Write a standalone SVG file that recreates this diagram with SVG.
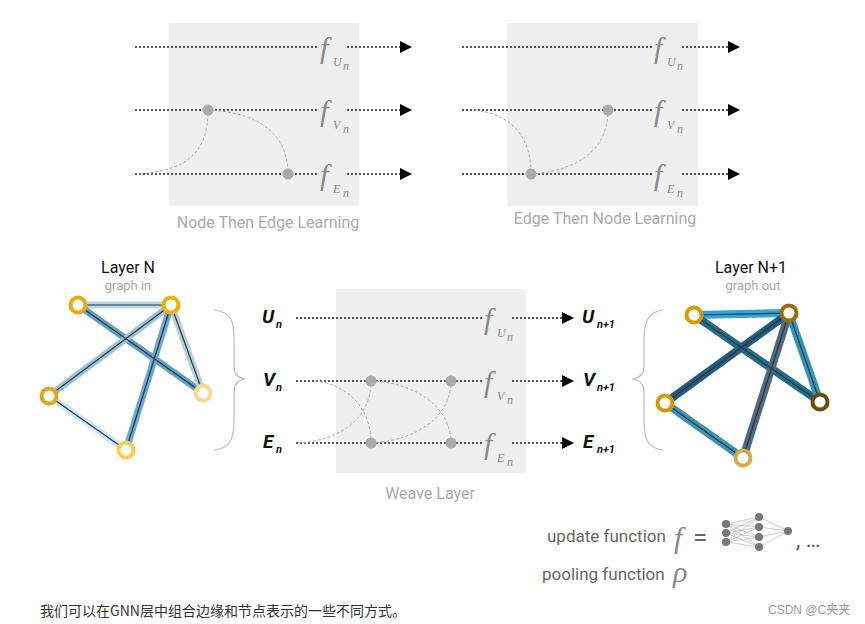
<svg xmlns="http://www.w3.org/2000/svg" width="865" height="624" viewBox="0 0 865 624">
<style>
.panel{fill:#efefef}
.flow{stroke:#222;stroke-width:1.6;stroke-dasharray:2 2;fill:none}
.cur{stroke:#aaa;stroke-width:1;stroke-dasharray:3 2;fill:none}
.dot{fill:#aaa}
.f{font-family:"Liberation Serif",serif;font-style:italic;fill:#888;font-size:30px}
.fs{font-family:"Liberation Serif",serif;font-style:italic;fill:#888;font-size:12px}
.cap{font-family:Roboto,"Liberation Sans",sans-serif;fill:#aaa;font-size:16px}
.lbl{font-family:Roboto,"Liberation Sans",sans-serif;font-style:italic;font-weight:bold;fill:#111;font-size:19px}
.lsub{font-family:Roboto,"Liberation Sans",sans-serif;font-style:italic;font-weight:bold;fill:#111;font-size:11px}
.title{font-family:Roboto,"Liberation Sans",sans-serif;fill:#111;font-size:16px}
.sub{font-family:Roboto,"Liberation Sans",sans-serif;fill:#aaa;font-size:13px}
.txt{font-family:Roboto,"Liberation Sans",sans-serif;fill:#666;font-size:17px}
.brace{stroke:#bbb;stroke-width:1.2;fill:none}
.node{fill:#fff;stroke-width:4}
.core{stroke:#333;stroke-width:1.2}
</style>
<defs>
<marker id="ar" viewBox="0 0 10 10" refX="0" refY="5" markerWidth="12" markerHeight="14" markerUnits="userSpaceOnUse" orient="auto"><path d="M0,0L10,5L0,10z" fill="#000"/></marker>
</defs>

<g id="panel-node-edge">
<rect class="panel" x="169" y="23" width="190" height="183"/>
<text class="cap" x="268" y="228" text-anchor="middle">Node Then Edge Learning</text>
</g>
<g id="panel-edge-node">
<rect class="panel" x="507" y="23" width="191" height="183"/>
<text class="cap" x="605" y="224" text-anchor="middle">Edge Then Node Learning</text>
</g>
<g id="panel-weave">
<rect class="panel" x="336" y="289" width="190" height="184"/>
<text class="cap" x="430" y="499" text-anchor="middle">Weave Layer</text>
</g>

<g id="connectors">
<path class="flow" d="M135,47H400" marker-end="url(#ar)"/>
<path class="flow" d="M135,110H400" marker-end="url(#ar)"/>
<path class="flow" d="M135,174H400" marker-end="url(#ar)"/>
<path class="cur" d="M140,174C190,170 208,150 208,110"/>
<path class="cur" d="M208,110C260,112 288,135 288,174"/>
<path class="flow" d="M462,47H728" marker-end="url(#ar)"/>
<path class="flow" d="M462,110H728" marker-end="url(#ar)"/>
<path class="flow" d="M462,174H728" marker-end="url(#ar)"/>
<path class="cur" d="M475,110C515,115 531,140 531,174"/>
<path class="cur" d="M531,174C585,170 608,145 608,110"/>
<path class="flow" d="M296,318H562" marker-end="url(#ar)"/>
<path class="flow" d="M296,381H562" marker-end="url(#ar)"/>
<path class="flow" d="M296,443H562" marker-end="url(#ar)"/>
<path class="cur" d="M315,381C350,385 371,410 371,443"/>
<path class="cur" d="M298,443C345,440 371,415 371,381"/>
<path class="cur" d="M371,443C420,440 451,415 451,381"/>
<path class="cur" d="M371,381C420,383 451,410 451,443"/>
</g>

<g id="dots">
<circle class="dot" cx="208" cy="110" r="5.5"/>
<circle class="dot" cx="288" cy="174" r="5.5"/>
<circle class="dot" cx="608" cy="110" r="5.5"/>
<circle class="dot" cx="531" cy="174" r="5.5"/>
<circle class="dot" cx="371" cy="381" r="5.5"/>
<circle class="dot" cx="451" cy="381" r="5.5"/>
<circle class="dot" cx="371" cy="443" r="5.5"/>
<circle class="dot" cx="451" cy="443" r="5.5"/>
</g>

<g id="f-labels">
<rect x="318" y="30" width="28" height="40" fill="#efefef"/>
<text class="f" x="320" y="58">f</text><text class="fs" x="333" y="66">U</text><text class="fs" x="343" y="70" font-size="7">n</text>
<rect x="318" y="93" width="28" height="40" fill="#efefef"/>
<text class="f" x="320" y="121">f</text><text class="fs" x="333" y="129">V</text><text class="fs" x="343" y="133" font-size="7">n</text>
<rect x="318" y="157" width="28" height="40" fill="#efefef"/>
<text class="f" x="320" y="185">f</text><text class="fs" x="333" y="193">E</text><text class="fs" x="343" y="197" font-size="7">n</text>
<rect x="652" y="30" width="28" height="40" fill="#efefef"/>
<text class="f" x="654" y="58">f</text><text class="fs" x="667" y="66">U</text><text class="fs" x="677" y="70" font-size="7">n</text>
<rect x="652" y="93" width="28" height="40" fill="#efefef"/>
<text class="f" x="654" y="121">f</text><text class="fs" x="667" y="129">V</text><text class="fs" x="677" y="133" font-size="7">n</text>
<rect x="652" y="157" width="28" height="40" fill="#efefef"/>
<text class="f" x="654" y="185">f</text><text class="fs" x="667" y="193">E</text><text class="fs" x="677" y="197" font-size="7">n</text>
<rect x="482" y="301" width="28" height="40" fill="#efefef"/>
<text class="f" x="484" y="329">f</text><text class="fs" x="497" y="337">U</text><text class="fs" x="507" y="341" font-size="7">n</text>
<rect x="482" y="364" width="28" height="40" fill="#efefef"/>
<text class="f" x="484" y="392">f</text><text class="fs" x="497" y="400">V</text><text class="fs" x="507" y="404" font-size="7">n</text>
<rect x="482" y="426" width="28" height="40" fill="#efefef"/>
<text class="f" x="484" y="454">f</text><text class="fs" x="497" y="462">E</text><text class="fs" x="507" y="466" font-size="7">n</text>
</g>

<g id="io-labels">
<text class="lbl" x="262" y="323">U</text><text class="lsub" x="276" y="328">n</text>
<text class="lbl" x="263" y="386">V</text><text class="lsub" x="276" y="391">n</text>
<text class="lbl" x="263" y="448">E</text><text class="lsub" x="276" y="453">n</text>
<text class="lbl" x="582" y="323">U</text><text class="lsub" x="597" y="328">n+1</text>
<text class="lbl" x="583" y="386">V</text><text class="lsub" x="597" y="391">n+1</text>
<text class="lbl" x="583" y="448">E</text><text class="lsub" x="597" y="453">n+1</text>
</g>

<g id="layer-n">
<text class="title" x="128" y="273" text-anchor="middle">Layer N</text>
<text class="sub" x="128" y="290" text-anchor="middle">graph in</text>
<g stroke-linecap="round">
<line x1="78" y1="305" x2="171" y2="305" stroke="#b7d7ea" stroke-width="7"/>
<line x1="78" y1="305" x2="203" y2="393" stroke="#5fa1c8" stroke-width="7"/>
<line x1="171" y1="305" x2="49" y2="396" stroke="#9cc4de" stroke-width="7"/>
<line x1="171" y1="305" x2="203" y2="393" stroke="#b9cfd9" stroke-width="7"/>
<line x1="171" y1="305" x2="126" y2="450" stroke="#6aa9d0" stroke-width="7"/>
<line x1="49" y1="396" x2="126" y2="450" stroke="#cce7f5" stroke-width="7"/>
<line class="core" x1="78" y1="305" x2="171" y2="305"/>
<line class="core" x1="78" y1="305" x2="203" y2="393"/>
<line class="core" x1="171" y1="305" x2="49" y2="396"/>
<line class="core" x1="171" y1="305" x2="203" y2="393"/>
<line class="core" x1="171" y1="305" x2="126" y2="450"/>
<line class="core" x1="49" y1="396" x2="126" y2="450"/>
</g>
<circle class="node" cx="78" cy="305" r="7.5" stroke="#eda90f"/>
<circle class="node" cx="171" cy="305" r="7.5" stroke="#f0b000"/>
<circle class="node" cx="49" cy="396" r="7.5" stroke="#e2a51c"/>
<circle class="node" cx="203" cy="393" r="7.5" stroke="#fcd98a"/>
<circle class="node" cx="126" cy="450" r="7.5" stroke="#fbcd4d"/>
<path class="brace" d="M214,310C232,312 234,322 234,340V366C234,374 238,378 245,379C238,380 234,384 234,392V420C234,440 230,448 214,450"/>
</g>

<g id="layer-n1">
<text class="title" x="751" y="273" text-anchor="middle">Layer N+1</text>
<text class="sub" x="753" y="290" text-anchor="middle">graph out</text>
<g stroke-linecap="round">
<line x1="694" y1="315" x2="789" y2="313" stroke="#2aa7db" stroke-width="8"/>
<line x1="694" y1="315" x2="820" y2="402" stroke="#1f6e8c" stroke-width="8"/>
<line x1="789" y1="313" x2="665" y2="403" stroke="#235b80" stroke-width="8"/>
<line x1="789" y1="313" x2="820" y2="402" stroke="#3393bd" stroke-width="8"/>
<line x1="789" y1="313" x2="743" y2="458" stroke="#4f6b80" stroke-width="8"/>
<line x1="665" y1="403" x2="743" y2="458" stroke="#3d92b6" stroke-width="8"/>
<line class="core" x1="694" y1="315" x2="789" y2="313"/>
<line class="core" x1="694" y1="315" x2="820" y2="402"/>
<line class="core" x1="789" y1="313" x2="665" y2="403"/>
<line class="core" x1="789" y1="313" x2="820" y2="402"/>
<line class="core" x1="789" y1="313" x2="743" y2="458"/>
<line class="core" x1="665" y1="403" x2="743" y2="458"/>
</g>
<circle class="node" cx="694" cy="315" r="7.5" stroke="#d89a00"/>
<circle class="node" cx="789" cy="313" r="7.5" stroke="#9c7000"/>
<circle class="node" cx="665" cy="403" r="7.5" stroke="#d89a00"/>
<circle class="node" cx="820" cy="402" r="7.5" stroke="#6b4c0c"/>
<circle class="node" cx="743" cy="458" r="7.5" stroke="#d2aa48"/>
<path class="brace" d="M663,310C648,312 644,322 644,340V366C644,374 640,378 632,379C640,380 644,384 644,392V420C644,440 648,448 663,450"/>
</g>

<g id="legend">
<text class="txt" x="547" y="542">update function</text>
<text class="f" x="674" y="548" font-size="28" fill="#777">f</text>
<text x="693" y="546" font-family="Roboto,'Liberation Sans',sans-serif" font-size="26" fill="#666">=</text>
<g stroke="#aaa" stroke-width="0.6">
<path d="M726,524L759,517M726,524L759,527M726,524L759,537M726,524L759,547M726,533L759,517M726,533L759,527M726,533L759,537M726,533L759,547M726,542L759,517M726,542L759,527M726,542L759,537M726,542L759,547M759,517L788,531M759,527L788,531M759,537L788,531M759,547L788,531"/>
</g>
<g fill="#777">
<circle cx="726" cy="524" r="4"/><circle cx="726" cy="533" r="4"/><circle cx="726" cy="542" r="4"/>
<circle cx="759" cy="517" r="4"/><circle cx="759" cy="527" r="4"/><circle cx="759" cy="537" r="4"/><circle cx="759" cy="547" r="4"/>
<circle cx="788" cy="531" r="4"/>
</g>
<text x="796" y="547" font-family="Roboto,'Liberation Sans',sans-serif" font-size="22" fill="#555">, …</text>
<text class="txt" x="542" y="580">pooling function</text>
<text class="f" x="673" y="582" font-size="26" fill="#777">ρ</text>
</g>

<text x="40" y="616" font-family="'Noto Sans CJK SC',sans-serif" font-size="14" fill="#333">我们可以在GNN层中组合边缘和节点表示的一些不同方式。</text>
<text x="768" y="614" font-family="'Liberation Sans','Noto Sans CJK SC',sans-serif" font-size="12" fill="#999">CSDN @C夹夹</text>
</svg>
